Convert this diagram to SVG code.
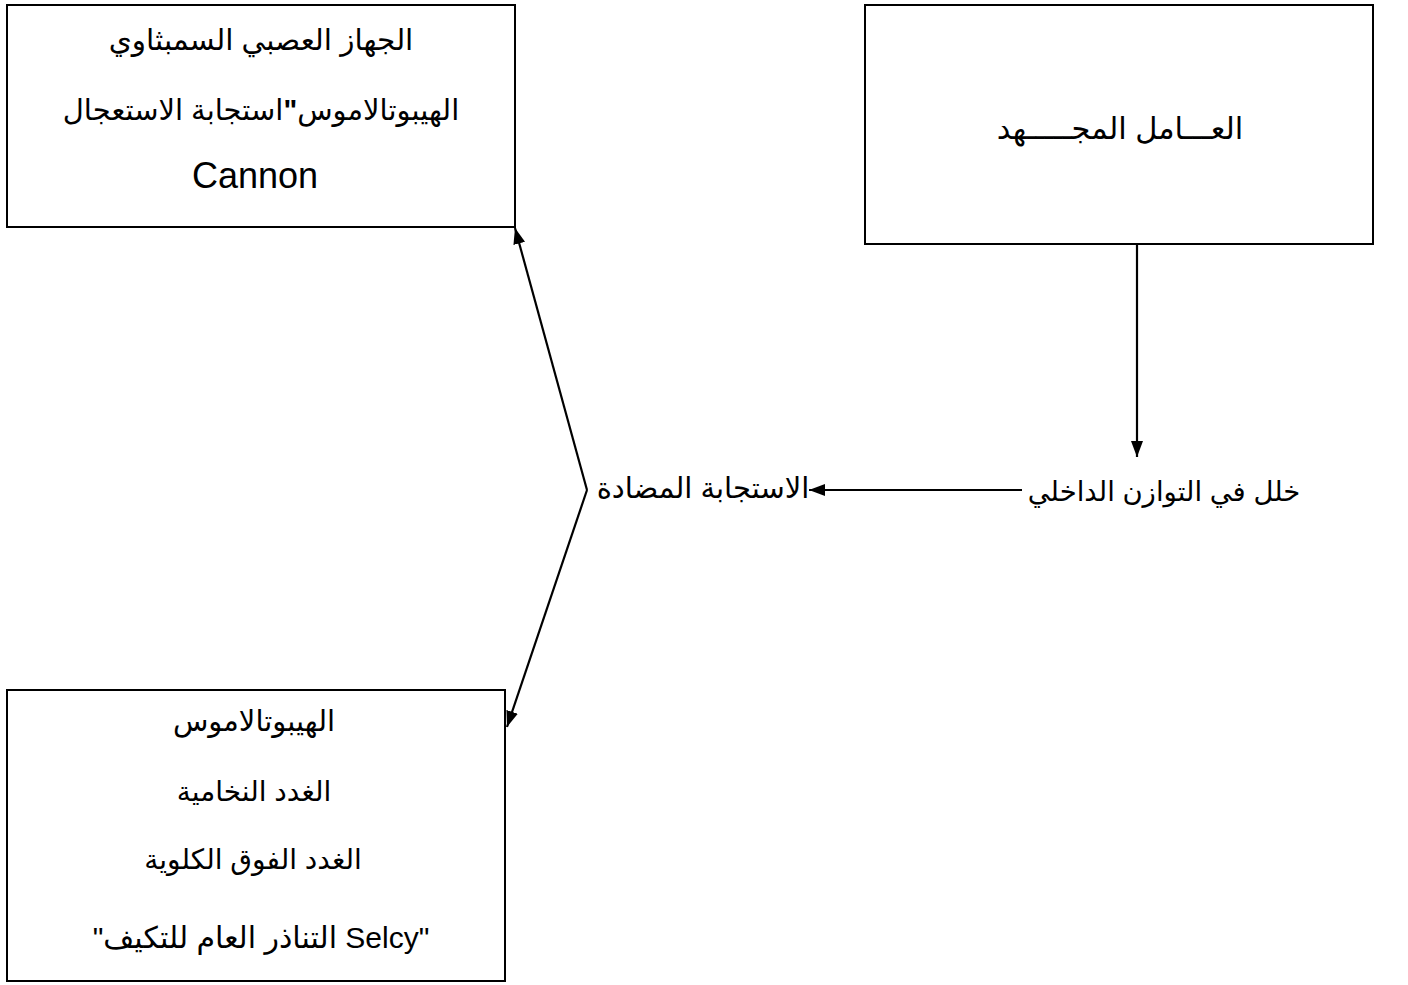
<svg xmlns="http://www.w3.org/2000/svg" width="1408" height="985" viewBox="0 0 1408 985">
<style>
.box{fill:#fff;stroke:#000;stroke-width:2}
.t{font-family:"Liberation Sans","DejaVu Sans",sans-serif;font-size:29px;fill:#000;text-anchor:middle}
.c{stroke:#000;stroke-width:2.2;fill:none;marker-end:url(#ah)}
</style>
<defs>
<marker id="ah" markerUnits="userSpaceOnUse" markerWidth="17" markerHeight="14" refX="16" refY="7" orient="auto" viewBox="0 0 17 14">
<path d="M0,1 L16,7 L0,13 z" fill="#000"/>
</marker>
</defs>
<rect width="1408" height="985" fill="#fff"/>
<g id="node-sympathetic">
<rect class="box" x="7" y="5" width="508" height="222"/>
<text class="t" x="261" y="50" style="font-size:29.5px">الجهاز العصبي السمبثاوي</text>
<text class="t" x="261" y="120">الهيبوتالاموس<tspan font-weight="bold">"</tspan>استجابة الاستعجال</text>
<text class="t" x="255" y="188" style="font-size:36px">Cannon</text>
</g>
<g id="node-stressor">
<rect class="box" x="865" y="5" width="508" height="239"/>
<text class="t" x="1120" y="139" style="font-size:30.5px">العـــامل المجـــــهد</text>
</g>
<g id="node-imbalance">
<text class="t" x="1164" y="501" style="font-size:27.5px">خلل في التوازن الداخلي</text>
</g>
<g id="node-counter">
<text class="t" x="703" y="498">الاستجابة المضادة</text>
</g>
<g id="node-hpa">
<rect class="box" x="7" y="690" width="498" height="291"/>
<text class="t" x="254" y="731">الهيبوتالاموس</text>
<text class="t" x="254" y="801" style="font-size:28px">الغدد النخامية</text>
<text class="t" x="253" y="869" style="font-size:28px">الغدد الفوق الكلوية</text>
<text class="t" x="261" y="948" style="font-size:30px">"التناذر العام للتكيف Selcy"</text>
</g>
<g id="connectors">
<line class="c" x1="1137" y1="244" x2="1137" y2="457"/>
<line class="c" x1="1022" y1="490" x2="809" y2="490"/>
<line class="c" x1="587" y1="490" x2="515" y2="228"/>
<line class="c" x1="587" y1="490" x2="507" y2="727"/>
</g>
</svg>
